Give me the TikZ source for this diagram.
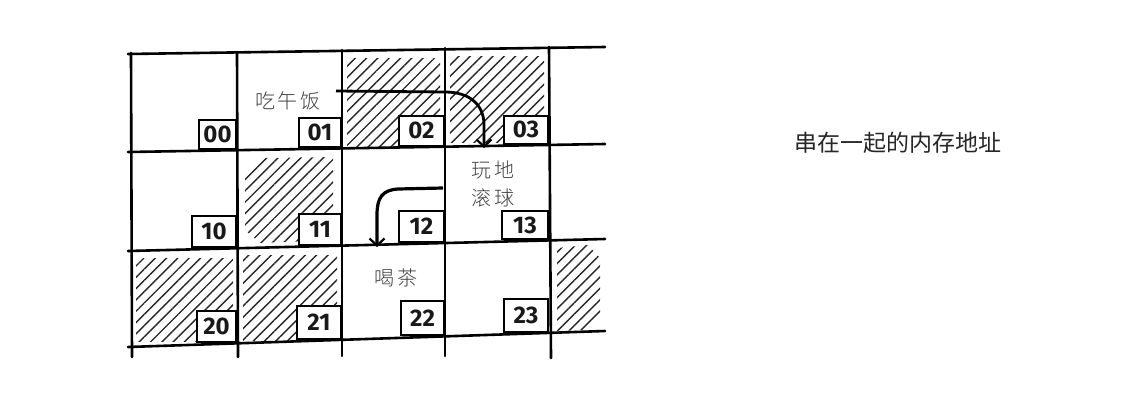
\documentclass[tikz,border=0pt]{standalone}
\usepackage{fontspec}
\setsansfont{Fira Sans}
\newfontfamily\cjk{Noto Sans CJK SC}
\newfontfamily\cjkhand[LetterSpace=12]{Noto Sans CJK SC Light}
\usetikzlibrary{patterns.meta,arrows.meta}
\begin{document}
\begin{tikzpicture}[x=1pt,y=-1pt,
  grid/.style={line width=2.6pt, line cap=round},
  hatch/.style={pattern={Lines[angle=45,distance=8pt,line width=1.4pt]}, pattern color=black!85},
  lbl/.style={draw, line width=2pt, fill=white, anchor=south east, inner sep=0pt,
    minimum width=42pt, minimum height=31pt, text=black!90,
    font=\sffamily\bfseries\fontsize{24}{24}\selectfont},
  hand/.style={font=\cjkhand\fontsize{20}{28}\selectfont, text=black!75, align=center},
  flow/.style={line width=2.8pt, -{Straight Barb[length=7pt,width=15pt,line width=2.2pt]}}
]
\useasboundingbox (0,0) rectangle (1136,402);

% hatched cells
\fill[hatch] (347,58) rectangle (440,146);
\fill[hatch] (450,56) rectangle (544,142);
\fill[hatch] (245,175) -- (262,158) -- (333,157) -- (333,240) -- (260,243) -- (245,230) -- cycle;
\fill[hatch] (136,258) rectangle (233,341);
\fill[hatch] (243,255) rectangle (337,340);
\fill[hatch] (557,248) -- (588,245) -- (600,258) -- (600,316) -- (586,330) -- (557,331) -- cycle;

% grid
\draw[grid] (128,54) -- (605,47);
\draw[grid] (128,152) -- (605,144);
\draw[grid] (128,251) -- (605,239);
\draw[grid] (128,347) -- (605,331);
\draw[grid] (131,53) -- (132,357);
\draw[grid] (237,52) -- (238,357);
\draw[grid] (342,50) -- (342,356);
\draw[grid] (445,48) -- (445,356);
\draw[grid] (549,47) -- (551,358);

% labels
\node[lbl, minimum width=37pt, minimum height=29pt] (l00) at (237,150.2) {00};
\node[lbl, minimum height=29pt] (l01) at (342,148.4) {01};
\node[lbl, minimum width=45pt, minimum height=30pt] (l02) at (445,146.7) {02};
\node[lbl, minimum width=44pt, minimum height=28pt] (l03) at (549,144.9) {03};
\node[lbl, minimum width=44pt] (l10) at (237,248.3) {10};
\node[lbl] (l11) at (342,245.7) {11};
\node[lbl, minimum width=45pt] (l12) at (445,243.1) {12};
\node[lbl, minimum width=46pt, minimum height=28pt] (l13) at (549,240.4) {13};
\node[lbl, minimum width=39pt] (l20) at (237,343.4) {20};
\node[lbl, minimum width=44pt, minimum height=33pt] (l21) at (342,339.9) {21};
\node[lbl, minimum width=43pt, minimum height=34pt] (l22) at (445,336.4) {22};
\node[lbl, minimum width=44pt, minimum height=33pt] (l23) at (549,332.9) {23};

% texts
\node[hand] (lunch) at (288,101) {吃午饭};
\node[hand] (bowl) at (493,184) {玩地\\滚球};
\node[hand] (tea) at (396,278) {喝茶};
\node[font=\cjk\fontsize{23}{26}\selectfont, text=black!85] (title) at (898,143) {串在一起的内存地址};

% arrows
\coordinate (a1s) at (336,91);
\coordinate (a1e) at (484,148);
\draw[flow] (a1s) -- (445,92) .. controls (470,92) and (484,105) .. (484,125) -- (a1e);
\coordinate (a2s) at (443,188);
\coordinate (a2e) at (377,247);
\draw[flow, line width=3.2pt] (a2s) -- (398,189) .. controls (382,190) and (377,198) .. (377,215) -- (a2e);
\end{tikzpicture}
\end{document}
